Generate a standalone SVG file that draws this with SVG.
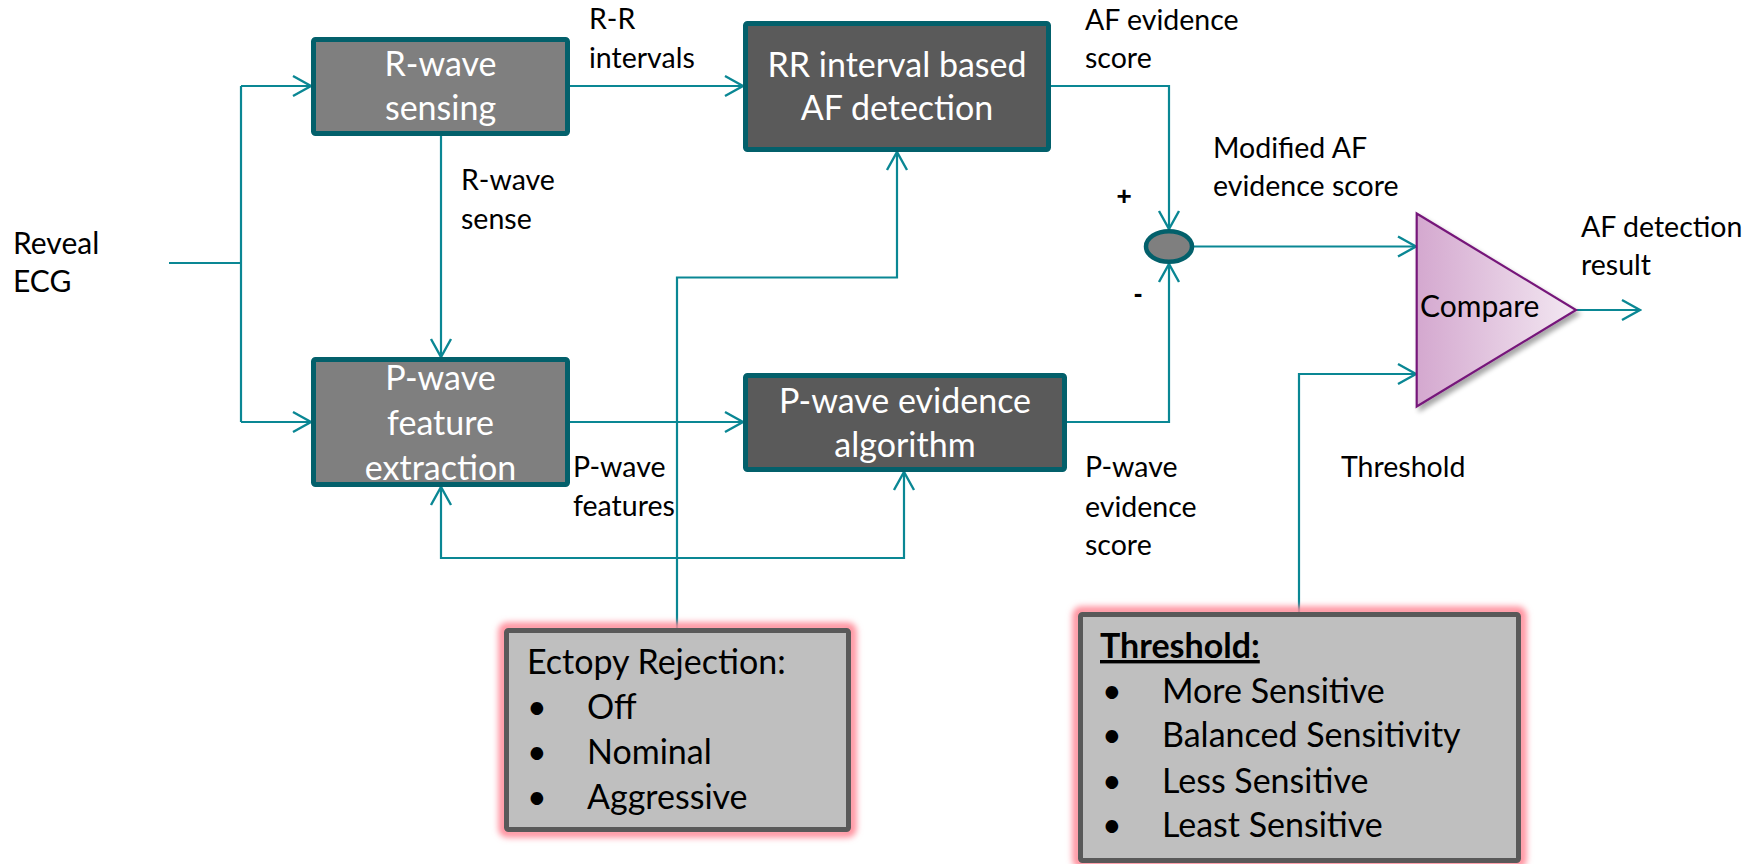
<svg xmlns="http://www.w3.org/2000/svg" width="1762" height="864" viewBox="0 0 1762 864">
  <style>
    .conn { fill: none; stroke: #0A8794; stroke-width: 2.2; }
    .arr { marker-end: url(#chev); }
    .blk { fill: #5A5A5A; stroke: #03606B; stroke-width: 5; }
    .mid { fill: #7F7F7F; stroke: #03606B; stroke-width: 5; }
    .opt { fill: #BFBFBF; stroke: #595959; stroke-width: 5; }
    .glow { fill: none; stroke: #FF8E9B; stroke-width: 9; filter: url(#soft); }
    .bt { font-family: Lato, "Liberation Sans", sans-serif; font-size: 34px; fill: #FFFFFF; text-anchor: middle; }
    .lb { font-family: Lato, "Liberation Sans", sans-serif; font-size: 28.5px; fill: #000000; }
    .ls { font-family: Lato, "Liberation Sans", sans-serif; font-size: 34px; fill: #000000; }
    .sg { font-family: "Liberation Sans", sans-serif; font-size: 26px; font-weight: bold; fill: #000000; }
  </style>
  <defs>
    <marker id="chev" viewBox="-22 -13 24 26" refX="0" refY="0" markerWidth="24" markerHeight="26" markerUnits="userSpaceOnUse" orient="auto-start-reverse">
      <path d="M-18,-10 L0,0 L-18,10" fill="none" stroke="#0A8794" stroke-width="2.4"/>
    </marker>
    <filter id="soft" x="-10%" y="-10%" width="120%" height="120%">
      <feGaussianBlur stdDeviation="3"/>
    </filter>
    <filter id="shade" x="-10%" y="-10%" width="130%" height="130%">
      <feGaussianBlur in="SourceAlpha" stdDeviation="2.5"/>
      <feOffset dx="3" dy="4" result="b"/>
      <feComponentTransfer><feFuncA type="linear" slope="0.35"/></feComponentTransfer>
      <feMerge><feMergeNode/><feMergeNode in="SourceGraphic"/></feMerge>
    </filter>
    <linearGradient id="lilac" x1="0" y1="0" x2="1" y2="0">
      <stop offset="0" stop-color="#D4A8CF"/>
      <stop offset="1" stop-color="#F3E8F2"/>
    </linearGradient>
  </defs>

  <!-- connectors -->
  <g id="connectors">
    <path class="conn" d="M169,263 H241"/>
    <path class="conn" d="M241,86 V422"/>
    <path class="conn arr" d="M241,86 H311"/>
    <path class="conn arr" d="M241,422 H311"/>
    <path class="conn arr" d="M570,86 H743"/>
    <path class="conn arr" d="M441,136 V357"/>
    <path class="conn arr" d="M570,422 H743"/>
    <path class="conn arr" d="M1051,86 H1169 V229"/>
    <path class="conn arr" d="M1067,422 H1169 V264"/>
    <path class="conn arr" d="M1193,246.5 H1416"/>
    <path class="conn arr" d="M1299,612 V374 H1416"/>
    <path class="conn arr" d="M1576,310 H1640"/>
    <path class="conn arr" d="M677,628 V277.5 H897 V152"/>
    <path class="conn arr" d="M441,487 V558 H904 V472" marker-start="url(#chev)"/>
  </g>

  <!-- input label -->
  <g id="input-label">
    <text class="lb" x="13" y="254" style="font-size:30px">Reveal</text>
    <text class="lb" x="13" y="292" style="font-size:30px">ECG</text>
  </g>

  <g id="r-wave-sensing">
    <rect class="mid" x="313.5" y="39.5" width="254" height="94" rx="2"/>
    <text class="bt" x="440.5" y="76">R-wave</text>
    <text class="bt" x="440.5" y="120">sensing</text>
  </g>

  <g id="rr-af-detection">
    <rect class="blk" x="745.5" y="23.5" width="303" height="126" rx="2"/>
    <text class="bt" x="897" y="77">RR interval based</text>
    <text class="bt" x="897" y="120">AF detection</text>
  </g>

  <g id="p-wave-feature-extraction">
    <rect class="mid" x="313.5" y="359.5" width="254" height="125" rx="2"/>
    <text class="bt" x="440.5" y="390">P-wave</text>
    <text class="bt" x="440.5" y="435">feature</text>
    <text class="bt" x="440.5" y="480">extraction</text>
  </g>

  <g id="p-wave-evidence">
    <rect class="blk" x="745.5" y="375.5" width="319" height="94" rx="2"/>
    <text class="bt" x="905" y="413">P-wave evidence</text>
    <text class="bt" x="905" y="457">algorithm</text>
  </g>

  <g id="summing-junction">
    <ellipse cx="1169" cy="246.5" rx="23" ry="15.3" fill="#7F7F7F" stroke="#03606B" stroke-width="4.5"/>
    <text class="sg" x="1124" y="205" text-anchor="middle">+</text>
    <text class="sg" x="1138" y="302" text-anchor="middle">-</text>
  </g>

  <g id="compare">
    <polygon points="1416.7,213.5 1576,310 1416.7,406.5" fill="url(#lilac)" stroke="#76177A" stroke-width="2.2" stroke-linejoin="miter" filter="url(#shade)"/>
    <text class="lb" x="1420" y="317" style="font-size:30px">Compare</text>
  </g>

  <!-- signal labels -->
  <g id="labels">
    <text class="lb" x="589" y="29">R-R</text>
    <text class="lb" x="589" y="68">intervals</text>
    <text class="lb" x="461" y="190">R-wave</text>
    <text class="lb" x="461" y="229">sense</text>
    <text class="lb" x="1085" y="30">AF evidence</text>
    <text class="lb" x="1085" y="68">score</text>
    <text class="lb" x="1213" y="158">Modified AF</text>
    <text class="lb" x="1213" y="196">evidence score</text>
    <text class="lb" x="573" y="477">P-wave</text>
    <text class="lb" x="573" y="516">features</text>
    <text class="lb" x="1085" y="477">P-wave</text>
    <text class="lb" x="1085" y="517">evidence</text>
    <text class="lb" x="1085" y="555">score</text>
    <text class="lb" x="1341" y="477">Threshold</text>
    <text class="lb" x="1581" y="237">AF detection</text>
    <text class="lb" x="1581" y="275">result</text>
  </g>

  <g id="ectopy-rejection">
    <rect class="glow" x="503" y="627" width="349" height="206" rx="4"/>
    <rect class="opt" x="506.5" y="630.5" width="342" height="199" rx="2"/>
    <text class="ls" x="527" y="674">Ectopy Rejection:</text>
    <text class="ls" x="527" y="719">•</text>
    <text class="ls" x="587" y="719">Off</text>
    <text class="ls" x="527" y="764">•</text>
    <text class="ls" x="587" y="764">Nominal</text>
    <text class="ls" x="527" y="809">•</text>
    <text class="ls" x="587" y="809">Aggressive</text>
  </g>

  <g id="threshold-setting">
    <rect class="glow" x="1077" y="611" width="445" height="253" rx="4"/>
    <rect class="opt" x="1080.5" y="614.5" width="438" height="246" rx="2"/>
    <text class="ls" x="1100" y="658" font-weight="bold" text-decoration="underline">Threshold: </text>
    <text class="ls" x="1102" y="703">•</text>
    <text class="ls" x="1162" y="703">More Sensitive</text>
    <text class="ls" x="1102" y="747">•</text>
    <text class="ls" x="1162" y="747">Balanced Sensitivity</text>
    <text class="ls" x="1102" y="793">•</text>
    <text class="ls" x="1162" y="793">Less Sensitive</text>
    <text class="ls" x="1102" y="837">•</text>
    <text class="ls" x="1162" y="837">Least Sensitive</text>
  </g>
</svg>
